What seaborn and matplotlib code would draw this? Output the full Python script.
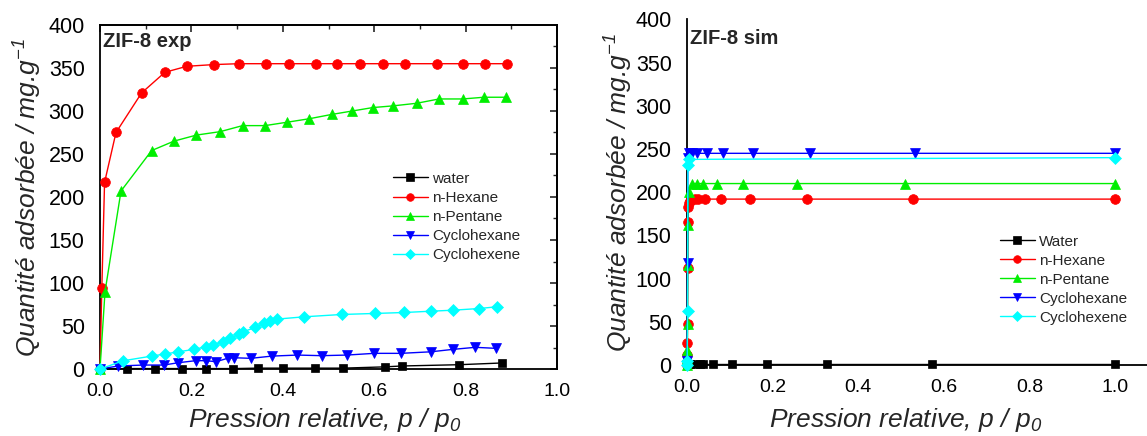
import numpy as np
import pandas as pd
import matplotlib
matplotlib.use("Agg")
import matplotlib.pyplot as plt
from matplotlib.ticker import MultipleLocator
import seaborn as sns

# ---------------- data: ZIF-8 experimental ----------------
exp_water_x = [0, 0.058, 0.12, 0.179, 0.233, 0.292, 0.346, 0.401, 0.47, 0.532, 0.624, 0.66, 0.786, 0.879]
exp_water_y = [0, 0.5, 0.5, 0.5, 0.5, 0.5, 1, 1, 1, 1, 2.5, 3.5, 5, 7]

exp_hexane_x = [0, 0.004, 0.01, 0.035, 0.091, 0.142, 0.19, 0.25, 0.304, 0.363, 0.414, 0.473,
                0.518, 0.569, 0.619, 0.667, 0.737, 0.794, 0.842, 0.89]
exp_hexane_y = [0, 94, 217, 275, 321, 345, 352, 354, 355, 355, 355, 355,
                355, 355, 355, 355, 355, 355, 355, 355]

exp_pentane_x = [0, 0.011, 0.046, 0.113, 0.162, 0.211, 0.263, 0.312, 0.361, 0.41, 0.458,
                 0.507, 0.552, 0.597, 0.642, 0.693, 0.742, 0.794, 0.84, 0.888]
exp_pentane_y = [0, 90, 207, 254, 265, 272, 276, 283, 283, 287, 291,
                 296, 300, 304, 306, 309, 314, 314, 316, 316]

exp_chexane_x = [0, 0.04, 0.095, 0.14, 0.171, 0.21, 0.231, 0.254, 0.279, 0.293, 0.33, 0.376,
                 0.432, 0.485, 0.54, 0.6, 0.658, 0.724, 0.772, 0.821, 0.867]
exp_chexane_y = [0, 3.5, 4.6, 4.6, 7.3, 9.7, 9.7, 8.5, 12.4, 13.1, 12.4, 15,
                 16.2, 15.5, 16.2, 18.2, 18.2, 20, 22.8, 25.2, 24]

exp_chexene_x = [0, 0.051, 0.113, 0.142, 0.171, 0.206, 0.233, 0.248, 0.27, 0.284, 0.305, 0.314,
                 0.339, 0.359, 0.372, 0.387, 0.447, 0.529, 0.602, 0.666, 0.724, 0.773, 0.829, 0.868]
exp_chexene_y = [0, 9.6, 15, 17.4, 20, 22.8, 25.9, 27.8, 31.7, 35.5, 40.6, 43.3,
                 48.3, 53, 55.7, 58, 60.7, 63.4, 64.6, 65.7, 67.2, 68.4, 70.3, 72.3]

# ---------------- data: ZIF-8 simulated ----------------
sim_water_x = [0, 0.007, 0.019, 0.03, 0.037, 0.061, 0.104, 0.186, 0.327, 0.572, 1.0]
sim_water_y = [1, 1, 1, 1, 1, 1, 1, 1, 1, 1, 1]

sim_hexane_x = [0, 0.0004, 0.0008, 0.0012, 0.0016, 0.0022, 0.003, 0.005, 0.007, 0.019, 0.026,
                0.042, 0.079, 0.147, 0.28, 0.529, 1.0]
sim_hexane_y = [0, 12, 25, 48, 112, 166, 183, 188, 190, 192, 192,
                192, 192, 192, 192, 192, 192]

sim_pentane_x = [0, 0.0004, 0.0008, 0.0012, 0.0016, 0.0022, 0.004, 0.011, 0.023, 0.037, 0.069,
                 0.132, 0.256, 0.509, 1.0]
sim_pentane_y = [0, 8, 17, 48, 116, 162, 200, 210, 210, 210, 210,
                 210, 210, 210, 210]

sim_chexane_x = [0, 0.0005, 0.0012, 0.002, 0.004, 0.011, 0.023, 0.046, 0.083, 0.155, 0.287, 0.533, 1.0]
sim_chexane_y = [0, 5, 118, 240, 245, 245, 245, 245, 245, 245, 245, 245, 245]

sim_chexene_x = [0, 0.0005, 0.0012, 0.002, 0.004, 1.0]
sim_chexene_y = [0, 5, 62, 231, 238, 240]

exp_labels = ["water", "n-Hexane", "n-Pentane", "Cyclohexane", "Cyclohexene"]
sim_labels = ["Water", "n-Hexane", "n-Pentane", "Cyclohexane", "Cyclohexene"]

colors = ["#000000", "#ff0000", "#00ee00", "#0000ff", "#00ffff"]
markers = ["s", "o", "^", "v", "D"]
msizes = [6, 7, 7.5, 7.5, 6.5]

sns.set_theme(style="white")
plt.rcParams["font.family"] = ["Liberation Sans", "DejaVu Sans"]
plt.rcParams["mathtext.fontset"] = "custom"
plt.rcParams["mathtext.it"] = "Liberation Sans:italic"
plt.rcParams["mathtext.rm"] = "Liberation Sans:italic"
plt.rcParams["axes.edgecolor"] = "black"
plt.rcParams["axes.linewidth"] = 1.3

fig = plt.figure(figsize=(11.47, 4.36), dpi=100)
ax1 = fig.add_axes([100 / 1147, 1 - 369 / 436, 457 / 1147, 344 / 436])
ax2 = fig.add_axes([687 / 1147, 1 - 365 / 436, 460 / 1147, 345.6 / 436])

exp_sets = [(exp_water_x, exp_water_y), (exp_hexane_x, exp_hexane_y), (exp_pentane_x, exp_pentane_y),
            (exp_chexane_x, exp_chexane_y), (exp_chexene_x, exp_chexene_y)]
sim_sets = [(sim_water_x, sim_water_y), (sim_hexane_x, sim_hexane_y), (sim_pentane_x, sim_pentane_y),
            (sim_chexane_x, sim_chexane_y), (sim_chexene_x, sim_chexene_y)]


def draw(ax, sets, labels):
    for (xs, ys), lab, c, m, ms in zip(sets, labels, colors, markers, msizes):
        df = pd.DataFrame({"x": xs, "y": ys})
        sns.lineplot(data=df, x="x", y="y", ax=ax, color=c, marker=m, markersize=ms,
                     markeredgecolor=c, markeredgewidth=0.5, linewidth=1.0,
                     label=lab, sort=False, estimator=None, clip_on=False, zorder=3)


draw(ax1, exp_sets, exp_labels)
draw(ax2, sim_sets, sim_labels)

for ax in (ax1, ax2):
    ax.set_ylim(0, 400)
    ax.yaxis.set_major_locator(MultipleLocator(50))
    ax.yaxis.set_minor_locator(MultipleLocator(25))
    ax.xaxis.set_major_locator(MultipleLocator(0.2))
    ax.xaxis.set_minor_locator(MultipleLocator(0.1))
    ax.xaxis.set_major_formatter(matplotlib.ticker.FormatStrFormatter("%.1f"))
    ax.tick_params(axis="both", which="major", direction="out", length=5, width=1.2,
                   colors="black")
    ax.tick_params(axis="y", which="major", labelsize=15.5, pad=6)
    ax.tick_params(axis="x", which="major", labelsize=14, pad=5)
    ax.tick_params(axis="both", which="minor", direction="out", length=3, width=1.0)
    ax.set_xlabel(r"Pression relative, p / p$_\mathit{0}$", fontsize=19, style="italic")
    ax.set_ylabel(r"Quantité adsorbée / mg.g$^\mathit{-1}$", fontsize=19, style="italic")

ax1.yaxis.labelpad = 3
ax2.yaxis.labelpad = 0
ax1.xaxis.set_label_coords(0.492, -0.108)
ax2.xaxis.set_label_coords(0.476, -0.119)

ax1.set_xlim(0, 1.0)
ax2.set_xlim(0, 1.075)

# left plot: full box with inward ticks on top/right
sec_x = ax1.secondary_xaxis("top")
sec_x.xaxis.set_major_locator(MultipleLocator(0.2))
sec_x.xaxis.set_minor_locator(MultipleLocator(0.1))
sec_x.tick_params(which="major", direction="in", length=5, width=1.2, labeltop=False)
sec_x.tick_params(which="minor", direction="in", length=3, width=1.0)
sec_x.spines["top"].set_linewidth(1.3)
sec_y = ax1.secondary_yaxis("right")
sec_y.yaxis.set_major_locator(MultipleLocator(50))
sec_y.yaxis.set_minor_locator(MultipleLocator(25))
sec_y.tick_params(which="major", direction="in", length=5, width=1.2, labelright=False)
sec_y.tick_params(which="minor", direction="in", length=3, width=1.0)
sec_y.spines["right"].set_linewidth(1.3)
ax1.tick_params(top=False, right=False, which="both")

for s in ("top", "right"):
    ax2.spines[s].set_visible(False)
ax2.tick_params(top=False, right=False, which="both")

ax1.text(0.007, 0.952, "ZIF-8 exp", transform=ax1.transAxes, fontsize=14.5,
         fontweight="bold", va="center", ha="left")
ax2.text(0.007, 0.945, "ZIF-8 sim", transform=ax2.transAxes, fontsize=14.5,
         fontweight="bold", va="center", ha="left")

leg1 = ax1.legend(loc="upper left", bbox_to_anchor=(0.627, 0.591), frameon=False, fontsize=11,
                  handlelength=2.3, labelspacing=0.33, handletextpad=0.3, borderaxespad=0)
leg2 = ax2.legend(loc="upper left", bbox_to_anchor=(0.6665, 0.395), frameon=False, fontsize=11,
                  handlelength=2.3, labelspacing=0.33, handletextpad=0.3, borderaxespad=0)
for leg in (leg1, leg2):
    for h in leg.legend_handles:
        h.set_markersize(5.5)

fig.savefig("out.png", dpi=100)
